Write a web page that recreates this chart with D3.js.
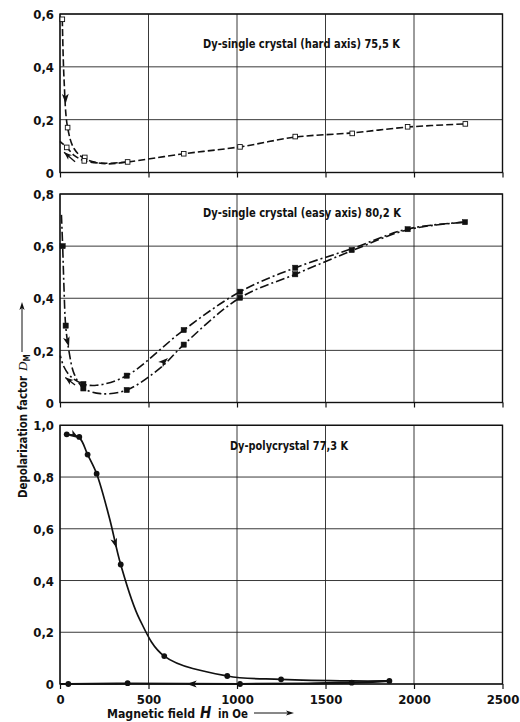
<!DOCTYPE html>
<html>
<head>
<meta charset="utf-8">
<script src="https://cdn.jsdelivr.net/npm/d3@7.9.0/dist/d3.min.js"></script>
<style>
  body { margin: 0; background: #fff; }
  svg { display: block; }
  text { font-family: "Liberation Sans Narrow", "DejaVu Sans Condensed", "Arial Narrow", sans-serif; font-weight: bold; fill: #111; }
</style>
</head>
<body>
<svg id="chart" width="520" height="722"></svg>
<script>
// x axis ticks (Oe)
const xTicks = [0, 500, 1000, 1500, 2000, 2500];

// panel 1: Dy single crystal, hard axis, 75.5 K  (open squares)
const hardPoints = [[13,0.58],[43,0.17],[38,0.095],[140,0.057],[137,0.044],[382,0.04],[699,0.071],[1017,0.097],[1329,0.136],[1651,0.148],[1964,0.173],[2290,0.184]];
const hardUp = [[13,0.58],[23,0.35],[43,0.17],[80,0.09],[140,0.052],[260,0.033],[382,0.04],[699,0.071],[1017,0.097],[1329,0.134],[1651,0.15],[1964,0.172],[2290,0.184]];
const hardDown = [[382,0.04],[260,0.035],[140,0.044],[80,0.065],[38,0.095],[0,0.118]];

// panel 2: Dy single crystal, easy axis, 80.2 K  (filled squares)
const easyPoints = [[15,0.60],[32,0.295],[132,0.071],[132,0.054],[377,0.103],[377,0.048],[699,0.278],[699,0.222],[1017,0.425],[1017,0.402],[1329,0.517],[1329,0.492],[1648,0.585],[1964,0.665],[2288,0.692]];
const easyUp = [[8,0.72],[15,0.6],[22,0.45],[32,0.295],[50,0.2],[80,0.11],[132,0.056],[230,0.034],[377,0.048],[574,0.137],[699,0.222],[1017,0.402],[1329,0.492],[1648,0.582],[1964,0.663],[2288,0.692]];
const easyDown = [[2288,0.692],[1964,0.666],[1648,0.59],[1329,0.517],[1017,0.425],[699,0.278],[377,0.103],[207,0.066],[132,0.071],[60,0.1],[20,0.14],[2,0.18]];

// panel 3: Dy polycrystal, 77.3 K  (filled circles)
const polyPoints = [[38,0.965],[109,0.955],[156,0.887],[207,0.813],[343,0.462],[589,0.108],[945,0.031],[1249,0.018],[1648,0.005],[1861,0.012],[47,0],[382,0.003],[1017,0]];
const polyUp = [[38,0.965],[109,0.952],[156,0.887],[207,0.813],[280,0.64],[343,0.462],[450,0.25],[589,0.108],[945,0.031],[1249,0.018],[1648,0.012],[1861,0.012]];
const polyDown = [[1861,0.012],[1648,0.005],[1400,0.002],[1017,0],[382,0.002],[47,0],[0,0]];

// arrows on the curves: [H, D, angle in degrees]
const hardArrows = [[32,0.26,88]];
const easyArrows = [[51,0.214,74],[610,0.171,-42]];
const polyArrows = [[320,0.525,73],[716,0,180],[107,0.95,32]];

const svg = d3.select("#chart");
const x = d3.scaleLinear().domain([0, 2500]).range([60, 502.5]);

const panels = [
  { yMax: 0.6, top: 14, bottom: 172.5, label: "Dy-single crystal (hard axis)  75,5 K", lx: 203, lw: 197, ly: 48,
    up: hardUp, down: hardDown, pts: hardPoints, marker: "open", dash: "7,3", arrows: hardArrows,
    side: [[85,0.041],[23,0.077]] },
  { yMax: 0.8, top: 194, bottom: 402.5, label: "Dy-single crystal (easy axis)  80,2 K", lx: 203, lw: 198, ly: 217,
    up: easyUp, down: easyDown, pts: easyPoints, marker: "filled", dash: "9,3,2,3", arrows: easyArrows,
    side: [[85,0.067],[30,0.096]] },
  { yMax: 1.0, top: 425.3, bottom: 684, label: "Dy-polycrystal  77,3 K", lx: 230, lw: 118, ly: 450,
    up: polyUp, down: polyDown, pts: polyPoints, marker: "circle", dash: null, arrows: polyArrows,
    side: null }
];

const fmt = d => d === 0 ? "0" : d3.format(".1f")(d).replace(".", ",");

function arrowHead(g, px, py, ang, len = 10, half = 3.4) {
  g.append("path")
    .attr("d", `M0,0L${-len},${-half}L${-len * 0.75},0L${-len},${half}Z`)
    .attr("transform", `translate(${px},${py}) rotate(${ang})`)
    .attr("fill", "#111");
}

panels.forEach((p, i) => {
  const y = d3.scaleLinear().domain([0, p.yMax]).range([p.bottom, p.top]);
  const g = svg.append("g");
  const yTicks = d3.range(0, p.yMax + 0.001, 0.2);

  // grid
  g.selectAll(".hg").data(yTicks).enter().append("line")
    .attr("x1", x(0)).attr("x2", x(2500))
    .attr("y1", d => y(d)).attr("y2", d => y(d))
    .attr("stroke", "#222").attr("stroke-width", 0.9);
  g.selectAll(".vg").data(xTicks).enter().append("line")
    .attr("x1", d => x(d)).attr("x2", d => x(d))
    .attr("y1", p.top).attr("y2", p.bottom)
    .attr("stroke", "#222").attr("stroke-width", 0.9);

  // frame
  g.append("rect")
    .attr("x", x(0)).attr("y", p.top)
    .attr("width", x(2500) - x(0)).attr("height", p.bottom - p.top)
    .attr("fill", "none").attr("stroke", "#111").attr("stroke-width", 1.4);

  // axes
  const yAxis = g.append("g").attr("transform", `translate(${x(0)},0)`)
    .call(d3.axisLeft(y).tickValues(yTicks).tickSize(0).tickPadding(6).tickFormat(fmt));
  yAxis.select(".domain").remove();
  yAxis.selectAll("text").attr("font-size", 13).attr("dy", "0.36em");

  const xAxis = g.append("g").attr("transform", `translate(0,${p.bottom})`)
    .call(d3.axisBottom(x).tickValues(xTicks).tickSize(5).tickPadding(6)
      .tickFormat(i === 2 ? d3.format("d") : ""));
  xAxis.select(".domain").remove();
  xAxis.selectAll("line").attr("stroke", "#111").attr("stroke-width", 1.2);
  xAxis.selectAll("text").attr("font-size", 13);

  // label
  g.append("text").attr("x", p.lx).attr("y", p.ly)
    .attr("font-size", 12.5).attr("textLength", p.lw).attr("lengthAdjust", "spacingAndGlyphs")
    .text(p.label);

  // curves
  const line = d3.line().x(d => x(d[0])).y(d => y(d[1])).curve(d3.curveCatmullRom.alpha(0.5));
  [p.up, p.down].forEach((c, k) => {
    g.append("path").attr("d", line(c))
      .attr("fill", "none").attr("stroke", "#111")
      .attr("stroke-width", i === 2 ? (k === 1 ? 2.2 : 1.7) : 1.6)
      .attr("stroke-dasharray", p.dash);
  });

  // markers
  if (p.marker === "circle") {
    g.selectAll(".pt").data(p.pts).enter().append("circle")
      .attr("cx", d => x(d[0])).attr("cy", d => y(d[1])).attr("r", 2.9)
      .attr("fill", "#111");
  } else {
    const s = p.marker === "open" ? 4.6 : 5.2;
    g.selectAll(".pt").data(p.pts).enter().append("rect")
      .attr("x", d => x(d[0]) - s / 2).attr("y", d => y(d[1]) - s / 2)
      .attr("width", s).attr("height", s)
      .attr("fill", p.marker === "open" ? "#fff" : "#111")
      .attr("stroke", "#111").attr("stroke-width", p.marker === "open" ? 0.9 : 0.5);
  }

  // arrows
  p.arrows.forEach(a => arrowHead(g, x(a[0]), y(a[1]), a[2]));
  if (p.side) {
    const [a, b] = p.side;
    g.append("line")
      .attr("x1", x(a[0])).attr("y1", y(a[1])).attr("x2", x(b[0])).attr("y2", y(b[1]))
      .attr("stroke", "#111").attr("stroke-width", 1.3);
    const ang = Math.atan2(y(b[1]) - y(a[1]), x(b[0]) - x(a[0])) * 180 / Math.PI;
    arrowHead(g, x(b[0]), y(b[1]), ang, 8, 3);
  }
});

// y axis title
const yt = svg.append("g");
yt.append("text").attr("transform", "translate(27,498) rotate(-90)")
  .attr("font-size", 12.5).attr("textLength", 122).attr("lengthAdjust", "spacingAndGlyphs")
  .text("Depolarization factor");
const dm = yt.append("text").attr("transform", "translate(27,371) rotate(-90)").attr("font-size", 13);
dm.append("tspan").attr("font-family", "'Liberation Serif', serif").attr("font-style", "italic").attr("font-weight", "normal").text("D");
dm.append("tspan").attr("font-size", 8).attr("dy", 3).text("M");
yt.append("line").attr("x1", 22).attr("x2", 22).attr("y1", 352).attr("y2", 306)
  .attr("stroke", "#111").attr("stroke-width", 1);
arrowHead(yt, 22, 302, -90, 8, 2.6);

// x axis title
const xt = svg.append("g");
xt.append("text").attr("x", 107).attr("y", 718).attr("font-size", 13)
  .attr("textLength", 88).attr("lengthAdjust", "spacingAndGlyphs").text("Magnetic field");
xt.append("text").attr("x", 200).attr("y", 718).attr("font-size", 15)
  .attr("font-family", "'Liberation Serif', serif").attr("font-style", "italic").attr("font-weight", "normal").text("H");
xt.append("text").attr("x", 218).attr("y", 718).attr("font-size", 13)
  .attr("textLength", 30).attr("lengthAdjust", "spacingAndGlyphs").text("in Oe");
xt.append("line").attr("x1", 254).attr("x2", 288).attr("y1", 713).attr("y2", 713)
  .attr("stroke", "#111").attr("stroke-width", 1);
arrowHead(xt, 294, 713, 0, 8, 2.6);
</script>
</body>
</html>
